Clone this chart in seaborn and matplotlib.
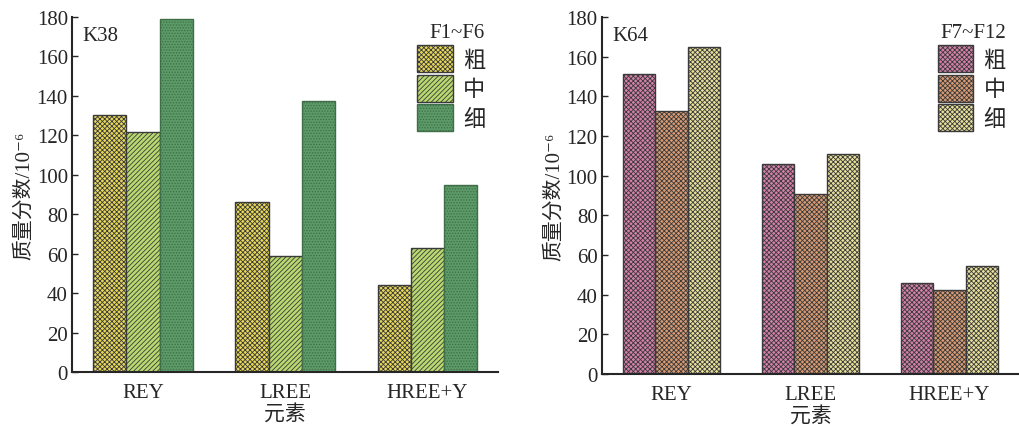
import numpy as np
import pandas as pd
import matplotlib
matplotlib.use('Agg')
import matplotlib.pyplot as plt
import seaborn as sns

# dados
elementos = ['REY', 'LREE', 'HREE+Y']
granulos = ['粗', '中', '细']

k38_grosso = [130.5, 86.2, 44.1]
k38_medio = [121.5, 58.6, 62.9]
k38_fino = [178.8, 137.6, 94.8]

k64_grosso = [151.1, 105.8, 45.8]
k64_medio = [132.4, 90.5, 42.4]
k64_fino = [164.7, 110.7, 54.5]

yticks = [0, 20, 40, 60, 80, 100, 120, 140, 160, 180]

sns.set_style('ticks')
plt.rcParams['font.family'] = ['Liberation Serif', 'Noto Sans CJK SC', 'DejaVu Serif']
plt.rcParams['hatch.linewidth'] = 0.6


def monta_df(g, m, f):
    linhas = []
    for nome, vals in zip(granulos, [g, m, f]):
        for el, v in zip(elementos, vals):
            linhas.append({'elemento': el, 'granulo': nome, 'valor': v})
    return pd.DataFrame(linhas)


def desenha(ax, df, cores, hatches, hcores, tag, titulo):
    sns.barplot(data=df, x='elemento', y='valor', hue='granulo', hue_order=granulos,
                order=elementos, palette=cores, width=0.7, saturation=1,
                edgecolor='#3a3a3a', linewidth=1.0, ax=ax, legend=False)
    for cont, h, hc in zip(ax.containers, hatches, hcores):
        for p in cont.patches:
            p.set_hatch(h)
            p.set_edgecolor(hc)
    ax.set_ylim(0, 180)
    ax.set_xlim(-0.5, 2.5)
    ax.set_yticks(yticks)
    ax.tick_params(axis='both', direction='in', labelsize=15, length=4, width=1)
    ax.tick_params(axis='x', pad=8)
    ax.tick_params(axis='y', pad=3)
    for s in ['top', 'right']:
        ax.spines[s].set_visible(False)
    for s in ['left', 'bottom']:
        ax.spines[s].set_linewidth(1.5)
    ax.set_ylabel('质量分数/10⁻⁶', fontsize=15, labelpad=2,
                  family=['Liberation Serif', 'Noto Sans CJK SC', 'DejaVu Serif'])
    ax.set_xlabel('元素', fontsize=15, labelpad=1)
    ax.text(0.025, 0.975, tag, transform=ax.transAxes, fontsize=15, va='top', ha='left')
    leg = ax.legend(ax.containers, granulos, title=titulo, frameon=False,
                    loc='upper right', bbox_to_anchor=(1.0, 1.02), fontsize=16,
                    title_fontsize=15, handlelength=1.6, handleheight=1.5,
                    labelspacing=0.12, handletextpad=0.45, borderaxespad=0.2)
    leg._legend_box.align = 'right'


fig = plt.figure(figsize=(10.2, 4.27), dpi=100)
ax1 = fig.add_axes([0.0706, 0.1265, 0.418, 0.8315])
ax2 = fig.add_axes([0.590, 0.122, 0.409, 0.836])

desenha(ax1, monta_df(k38_grosso, k38_medio, k38_fino),
        ['#e8d858', '#b8d870', '#5c9a68'], ['xxxxxxx', '///////', '......'],
        ['#3a3a3a', '#3a3a3a', '#3f6e48'], 'K38', 'F1~F6')
desenha(ax2, monta_df(k64_grosso, k64_medio, k64_fino),
        ['#d480aa', '#d89a72', '#e8e09a'], ['xxxxxxx', 'xxxxxxx', 'xxxxxxx'],
        ['#3a3a3a', '#3a3a3a', '#3a3a3a'], 'K64', 'F7~F12')

fig.savefig('out.png', dpi=100)
